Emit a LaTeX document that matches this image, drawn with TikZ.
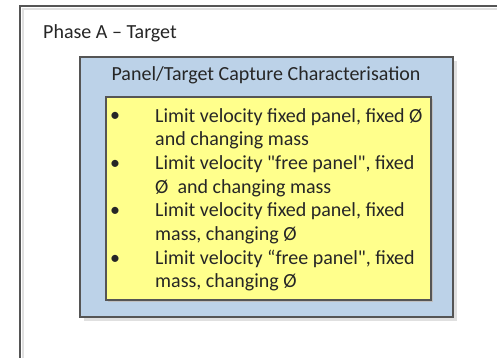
\documentclass[tikz,border=0pt]{standalone}
\usepackage{fontspec}
\setmainfont{Carlito}[Ligatures=TeXOff]
\usetikzlibrary{positioning, shadows}

\definecolor{framegray}{RGB}{85,85,85}
\definecolor{panelblue}{RGB}{188,210,232}
\definecolor{noteyellow}{RGB}{255,255,140}

\tikzset{
    phasebox/.style={draw=framegray, line width=1.4pt},
    panelbox/.style={draw=framegray, line width=1.2pt, fill=panelblue, inner sep=0,
        drop shadow={shadow xshift=4pt, shadow yshift=-4pt, fill=black!12, opacity=1}},
    notebox/.style={draw=framegray, line width=1.2pt, fill=noteyellow, inner sep=0,
        drop shadow={shadow xshift=2pt, shadow yshift=-2pt, fill=black!25, opacity=1}},
    label/.style={font=\fontsize{20}{23.7}\selectfont, text=black!85, inner sep=0},
    item/.style={label, align=left, anchor=base west}
}

\begin{document}
\begin{tikzpicture}[x=1pt, y=-1pt]
    \clip (0,0) rectangle (497,358);
    \fill[white] (0,0) rectangle (497,358);

    % outer phase frame (runs off the page)
    \draw[black!12, line width=1.4pt] (23,370) -- (23,9) -- (510,9);
    \draw[phasebox] (20,370) -- (20,6) -- (510,6);
    \node[label, anchor=base west] (phase) at (43,39) {Phase A – Target};

    % panel / target box
    \node[panelbox, minimum width=373pt, minimum height=260pt] (capture) at (266.5,187) {};
    \node[label, anchor=base] (title) at (266,81) {Panel/Target Capture Characterisation};

    % yellow list
    \node[notebox, minimum width=325pt, minimum height=203pt] (list) at (268.5,198.5) {};

    \foreach \n/\y in {1/122, 2/169.4, 3/216.8, 4/264.2}
        \node[label, anchor=base] (bullet\n) at (115,\y) {•};

    % base of a two-line node is its last line
    \node[item] (item1) at (155,145.7) {Limit velocity fixed panel, fixed Ø\\and changing mass};
    \node[item] (item2) at (155,193.1) {Limit velocity "free panel", fixed\\Ø\ \ and changing mass};
    \node[item] (item3) at (155,240.5) {Limit velocity fixed panel, fixed\\mass, changing Ø};
    \node[item] (item4) at (155,287.9) {Limit velocity “free panel", fixed\\mass, changing Ø};
\end{tikzpicture}
\end{document}
